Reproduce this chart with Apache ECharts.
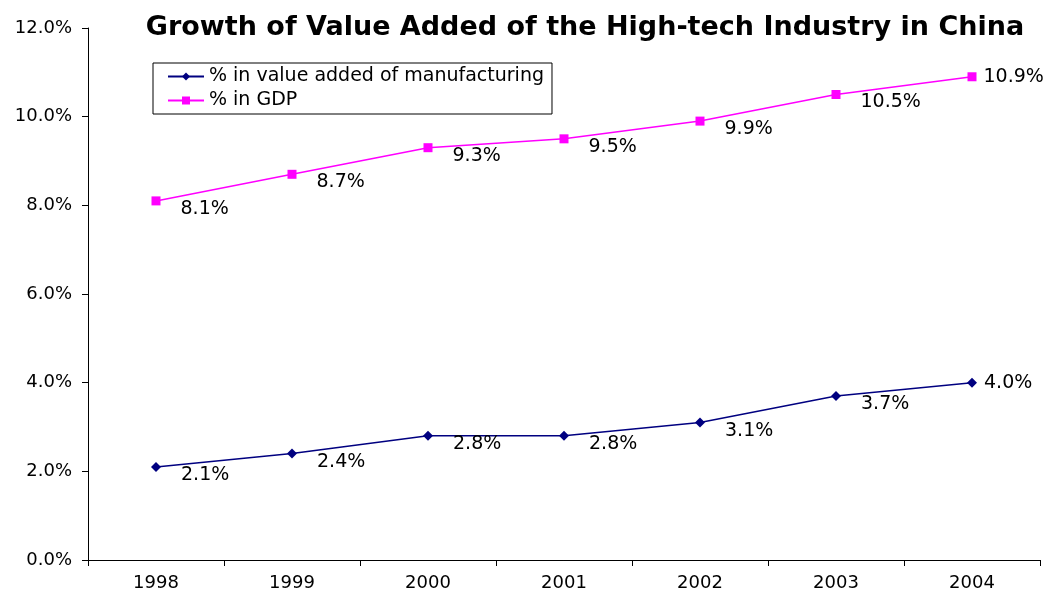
<!DOCTYPE html>
<html>
<head>
<meta charset="utf-8">
<script src="https://cdn.jsdelivr.net/npm/echarts@6/dist/echarts.min.js"></script>
<style>
  html, body { margin: 0; padding: 0; background: #fff; }
  #chart { width: 1047px; height: 592px; }
</style>
</head>
<body>
<div id="chart"></div>
<script>
// data
const years = ['1998', '1999', '2000', '2001', '2002', '2003', '2004']
const manufShare = [2.1, 2.4, 2.8, 2.8, 3.1, 3.7, 4.0]
const gdpShare = [8.1, 8.7, 9.3, 9.5, 9.9, 10.5, 10.9]

// wide face, the reference text is stretched sideways
const font = 'DejaVu Sans, Verdana, sans-serif'

// last point label sits to the right, others right-below
const withLabels = (values) => values.map((v, i) => {
  const last = i === values.length - 1
  return {
    value: v,
    label: { offset: last ? [2, 0] : [15, 8] }
  }
})

const pointLabel = {
  show: true,
  position: 'right',
  distance: 5,
  fontFamily: font,
  fontSize: 19,
  color: '#000',
  formatter: p => p.value.toFixed(1) + '%'
}

const chart = echarts.init(document.getElementById('chart'))

chart.setOption({
  animation: false,
  backgroundColor: '#fff',
  title: {
    text: 'Growth of Value Added of the High-tech Industry in China',
    left: 580,
    textAlign: 'center',
    top: 9,
    textStyle: { fontFamily: font, fontSize: 27, fontWeight: 'bold', color: '#000' }
  },
  legend: {
    orient: 'vertical',
    left: 153,
    top: 63,
    padding: [4, 8, 4, 14],
    itemGap: 5,
    itemWidth: 36,
    itemHeight: 10,
    borderColor: '#000',
    borderWidth: 1,
    borderRadius: 0,
    textStyle: { fontFamily: font, fontSize: 19, lineHeight: 18, color: '#000' },
    data: ['% in value added of manufacturing', '% in GDP']
  },
  grid: { left: 88, right: 7, top: 28, bottom: 32 },
  xAxis: {
    type: 'category',
    data: years,
    boundaryGap: true,
    axisLine: { lineStyle: { color: '#000', width: 1 } },
    axisTick: { show: true, length: 6, inside: false, lineStyle: { color: '#000' } },
    axisLabel: { margin: 14, fontFamily: font, fontSize: 18, color: '#000' },
    splitLine: { show: false }
  },
  yAxis: {
    type: 'value',
    min: 0,
    max: 12,
    interval: 2,
    axisLine: { show: true, lineStyle: { color: '#000', width: 1 } },
    axisTick: { show: true, length: 6, lineStyle: { color: '#000' } },
    axisLabel: {
      margin: 16,
      fontFamily: font,
      fontSize: 18,
      color: '#000',
      formatter: v => v.toFixed(1) + '%'
    },
    splitLine: { show: false }
  },
  series: [
    {
      name: '% in value added of manufacturing',
      type: 'line',
      data: withLabels(manufShare),
      symbol: 'diamond',
      symbolSize: 10,
      color: '#000080',
      lineStyle: { width: 1.5, color: '#000080' },
      itemStyle: { color: '#000080' },
      label: pointLabel
    },
    {
      name: '% in GDP',
      type: 'line',
      data: withLabels(gdpShare),
      symbol: 'rect',
      symbolSize: 9,
      color: '#FF00FF',
      lineStyle: { width: 1.5, color: '#FF00FF' },
      itemStyle: { color: '#FF00FF' },
      label: pointLabel
    }
  ]
})
</script>
</body>
</html>
